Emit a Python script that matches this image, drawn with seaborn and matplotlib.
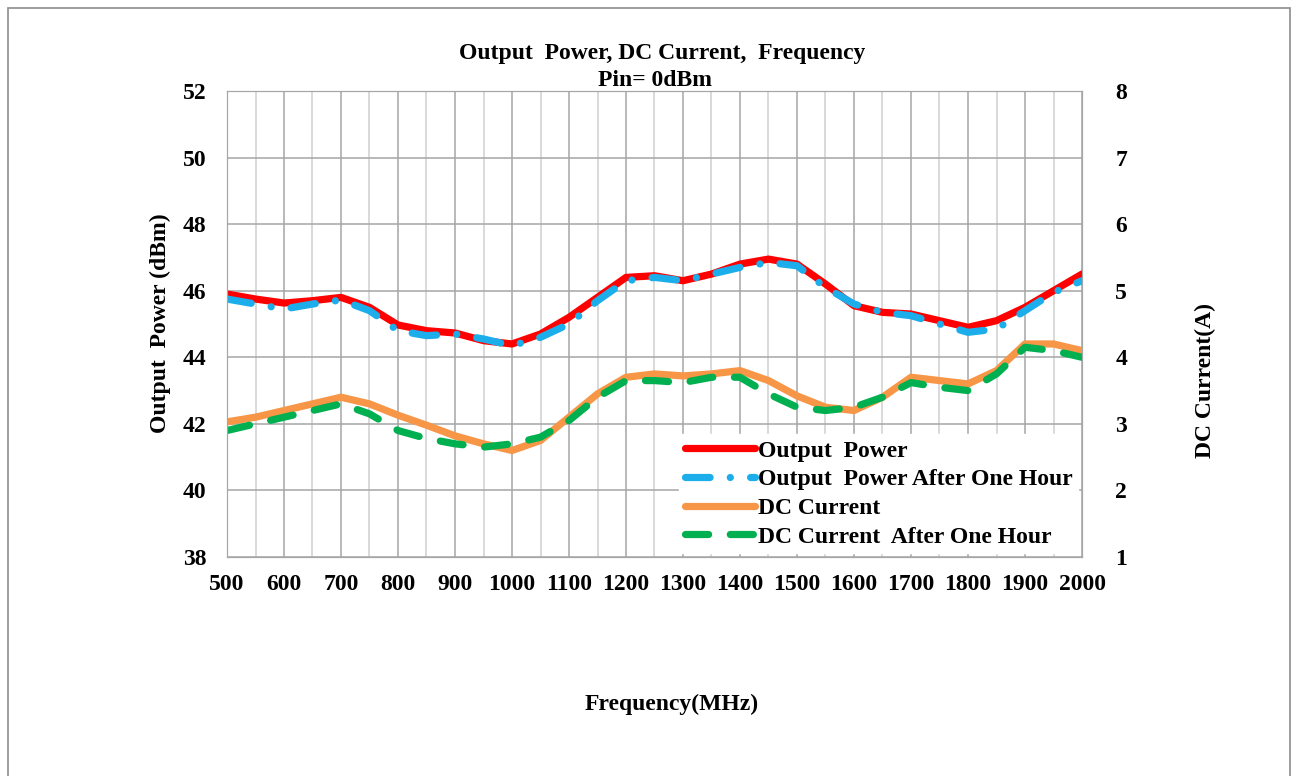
import matplotlib
matplotlib.use("Agg")
import matplotlib.pyplot as plt
import seaborn as sns
import pandas as pd
from matplotlib.patches import Rectangle

freq = list(range(500, 2001, 50))

power = [45.9, 45.75, 45.63, 45.7, 45.8, 45.5, 44.97, 44.8, 44.73, 44.5, 44.4,
         44.7, 45.2, 45.8, 46.4, 46.45, 46.3, 46.5, 46.8, 46.95, 46.8, 46.2,
         45.55, 45.35, 45.3, 45.1, 44.9, 45.1, 45.5, 46.0, 46.5]
power_hour = [45.75, 45.6, 45.45, 45.6, 45.72, 45.4, 44.8, 44.65, 44.7, 44.55, 44.35,
              44.6, 45.0, 45.7, 46.3, 46.4, 46.3, 46.5, 46.7, 46.85, 46.75, 46.1,
              45.6, 45.35, 45.25, 45.0, 44.75, 44.85, 45.4, 45.95, 46.3]
current = [3.03, 3.1, 3.2, 3.3, 3.4, 3.3, 3.13, 2.98, 2.82, 2.7, 2.6,
           2.75, 3.1, 3.45, 3.7, 3.75, 3.72, 3.75, 3.8, 3.65, 3.42, 3.25,
           3.2, 3.4, 3.7, 3.65, 3.6, 3.8, 4.2, 4.2, 4.1]
current_hour = [2.9, 3.0, 3.1, 3.2, 3.3, 3.15, 2.9, 2.78, 2.7, 2.65, 2.7,
                2.8, 3.05, 3.4, 3.65, 3.65, 3.62, 3.7, 3.7, 3.45, 3.25, 3.2,
                3.25, 3.4, 3.62, 3.55, 3.5, 3.75, 4.15, 4.1, 4.0]

df = pd.DataFrame({"freq": freq, "power": power, "power_hour": power_hour,
                   "current": current, "current_hour": current_hour})

sns.set_style("white")
plt.rcParams['font.family'] = ['Liberation Serif', 'DejaVu Serif']
plt.rcParams['font.weight'] = 'bold'
plt.rcParams['text.color'] = 'black'
plt.rcParams['xtick.color'] = 'black'
plt.rcParams['ytick.color'] = 'black'
FS = 17

fig = plt.figure(figsize=(12.98, 7.76), dpi=100)
fig.patches.append(Rectangle((8/1298, -0.05), 1282/1298, 1.05 - 8/776, transform=fig.transFigure,
                             fill=False, edgecolor='#8c8c8c', linewidth=1.2))
ax = fig.add_axes([227/1298, 1 - 557/776, 855/1298, 466/776])
ax2 = ax.twinx()

lw = 5.2
sns.lineplot(data=df, x="freq", y="power", ax=ax, color="#FF0000", linewidth=lw, legend=False)
sns.lineplot(data=df, x="freq", y="power_hour", ax=ax, color="#1CAEEA", linewidth=lw, legend=False)
sns.lineplot(data=df, x="freq", y="current", ax=ax2, color="#F79646", linewidth=lw, legend=False)
sns.lineplot(data=df, x="freq", y="current_hour", ax=ax2, color="#00B050", linewidth=lw, legend=False)

ax.lines[1].set_dashes([3.4, 2.8, 0.01, 2.8])
ax2.lines[1].set_dashes([3.2, 3.0])
for ln in ax.lines + ax2.lines:
    ln.set_solid_capstyle('round')
    ln.set_solid_joinstyle('round')
    ln.set_dash_capstyle('round')
    ln.set_dash_joinstyle('round')

ax.set_xlim(500, 2000)
ax.set_ylim(38, 52)
ax2.set_ylim(1, 8)
ax.set_xticks(range(500, 2001, 100))
ax.set_xticks(range(550, 2000, 100), minor=True)
ax.set_yticks(range(38, 53, 2))
ax2.set_yticks(range(1, 9))

ax.grid(True, which='major', axis='both', color='#a6a6a6', linewidth=1.1)
ax.grid(True, which='minor', axis='x', color='#cfcfcf', linewidth=1.1)
ax.set_axisbelow(True)
ax2.grid(False)

for a in (ax, ax2):
    for s in a.spines.values():
        s.set_color('#a6a6a6')
    a.tick_params(axis='both', which='both', length=0, labelsize=FS, labelcolor='black')
ax.tick_params(axis='y', pad=15)
ax.tick_params(axis='x', pad=12)
ax2.tick_params(axis='y', pad=24)
for lab in ax.get_xticklabels() + ax.get_yticklabels() + ax2.get_yticklabels():
    lab.set_fontweight('bold')

ax.set_xlabel("")
ax.set_ylabel("")
ax2.set_ylabel("")
fig.text(160/1298, 1 - 323/776, "Output  Power (dBm)", rotation=90, ha='center', va='center',
         fontsize=FS, fontweight='bold')
fig.text(1205/1298, 1 - 380/776, "DC Current(A)", rotation=90, ha='center', va='center',
         fontsize=FS, fontweight='bold')
fig.text(672/1298, 1 - 704/776, "Frequency(MHz)", ha='center', va='center',
         fontsize=FS, fontweight='bold')
fig.text(662/1298, 1 - 54/776, "Output  Power, DC Current,  Frequency", ha='center',
         va='center', fontsize=FS, fontweight='bold')
fig.text(655/1298, 1 - 80/776, "Pin= 0dBm", ha='center', va='center',
         fontsize=FS, fontweight='bold')

handles = [ax.lines[0], ax.lines[1], ax2.lines[0], ax2.lines[1]]
labels = ["Output  Power", "Output  Power After One Hour", "DC Current",
          "DC Current  After One Hour"]
leg = ax2.legend(handles, labels, loc='lower right', bbox_to_anchor=(1.0, 0.0),
                 frameon=True, fancybox=False, framealpha=1, edgecolor='white',
                 handlelength=3.0, handletextpad=0.1, borderpad=0.25, labelspacing=0.3,
                 borderaxespad=0.15, prop={'size': FS, 'weight': 'bold'})

fig.savefig("out.png", dpi=100)
